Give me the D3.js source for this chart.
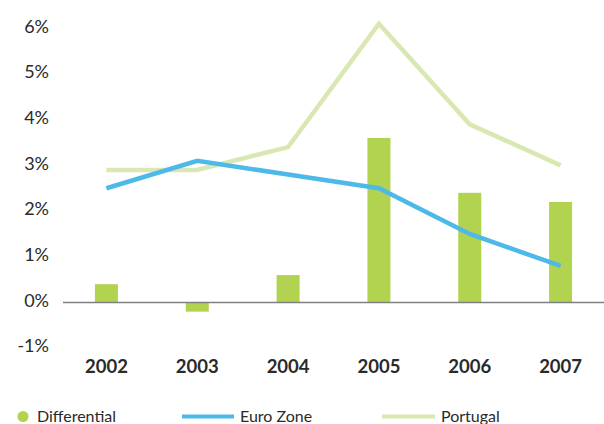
<!DOCTYPE html>
<html>
<head>
<meta charset="utf-8">
<script src="https://cdn.jsdelivr.net/npm/d3@7"></script>
<style>
  body { margin: 0; background: #fff; }
  svg { display: block; font-family: "Lato", "DejaVu Sans", sans-serif; }
  .tick text { fill: #2a2a2a; }
</style>
</head>
<body>
<div class="chart"></div>
<script>
// data
var years = ["2002", "2003", "2004", "2005", "2006", "2007"];
var differential = [0.4, -0.2, 0.6, 3.6, 2.4, 2.2];
var euroZone = [2.5, 3.1, 2.8, 2.5, 1.5, 0.8];
var portugal = [2.9, 2.9, 3.4, 6.1, 3.9, 3.0];
var yTicks = [-1, 0, 1, 2, 3, 4, 5, 6];

var svgWidth = 604;
var svgHeight = 424;

var svg = d3.select(".chart")
    .append("svg")
    .attr("width", svgWidth)
    .attr("height", svgHeight);

// scales
var x = d3.scaleBand()
    .domain(years)
    .range([61, 606]);

var y = d3.scaleLinear()
    .domain([-1, 6])
    .range([348.2, 28.3]);

// y axis labels (no line, no ticks)
var leftAxis = d3.axisLeft(y)
    .tickValues(yTicks)
    .tickSize(0)
    .tickPadding(0)
    .tickFormat(d => d + "%");

svg.append("g")
    .attr("transform", "translate(49, -2)")
    .call(leftAxis)
    .call(g => g.select(".domain").remove())
    .selectAll("text")
    .style("font-size", "18px")
    .style("font-family", "Lato, sans-serif");

// bars
var barW = 23;
svg.selectAll("rect.bar")
    .data(differential)
    .enter()
    .append("rect")
    .attr("class", "bar")
    .attr("x", (d, i) => x(years[i]) + x.bandwidth() / 2 - barW / 2)
    .attr("y", d => y(Math.max(0, d)))
    .attr("width", barW)
    .attr("height", d => Math.abs(y(d) - y(0)))
    .attr("fill", "#b1d34f");

// zero line
svg.append("line")
    .attr("x1", 63)
    .attr("x2", 604)
    .attr("y1", y(0))
    .attr("y2", y(0))
    .attr("stroke", "#808080")
    .attr("stroke-width", 1.5);

var line = d3.line()
    .x((d, i) => x(years[i]) + x.bandwidth() / 2)
    .y(d => y(d));

svg.append("path")
    .datum(portugal)
    .attr("d", line)
    .attr("fill", "none")
    .attr("stroke", "#d9e8b2")
    .attr("stroke-width", 4.5);

svg.append("path")
    .datum(euroZone)
    .attr("d", line)
    .attr("fill", "none")
    .attr("stroke", "#4cb9e9")
    .attr("stroke-width", 4.5);

// x axis labels
var bottomAxis = d3.axisBottom(x).tickSize(0).tickPadding(0);
svg.append("g")
    .attr("transform", "translate(0, 360)")
    .call(bottomAxis)
    .call(g => g.select(".domain").remove())
    .selectAll("text")
    .style("font-size", "18.5px")
    .style("font-weight", "bold")
    .style("font-family", "Lato, sans-serif");

// legend
var legend = svg.append("g")
    .attr("font-size", "16px")
    .attr("fill", "#2a2a2a");

legend.append("circle")
    .attr("cx", 23)
    .attr("cy", 416.5)
    .attr("r", 5.5)
    .attr("fill", "#b1d34f");
legend.append("text")
    .attr("x", 37)
    .attr("y", 416.5)
    .attr("dy", "0.35em")
    .text("Differential");

legend.append("line")
    .attr("x1", 182).attr("x2", 234)
    .attr("y1", 416.5).attr("y2", 416.5)
    .attr("stroke", "#4cb9e9")
    .attr("stroke-width", 4);
legend.append("text")
    .attr("x", 240)
    .attr("y", 416.5)
    .attr("dy", "0.35em")
    .text("Euro Zone");

legend.append("line")
    .attr("x1", 382).attr("x2", 435)
    .attr("y1", 416.5).attr("y2", 416.5)
    .attr("stroke", "#d9e8b2")
    .attr("stroke-width", 4);
legend.append("text")
    .attr("x", 441)
    .attr("y", 416.5)
    .attr("dy", "0.35em")
    .text("Portugal");
</script>
</body>
</html>
